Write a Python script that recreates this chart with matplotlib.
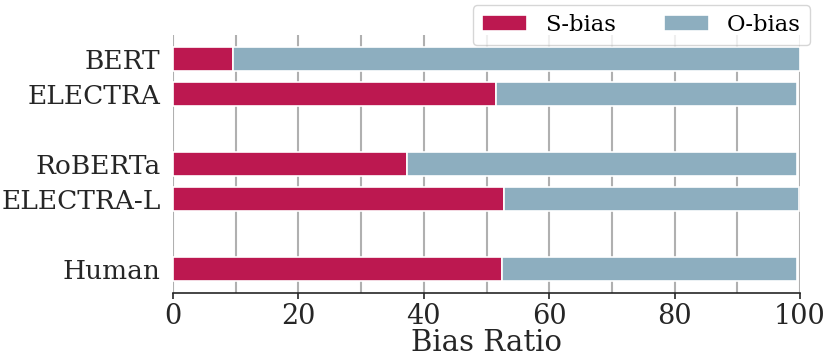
import matplotlib
matplotlib.use("Agg")
import matplotlib.pyplot as plt
from matplotlib.ticker import MultipleLocator

models = ["BERT", "ELECTRA", "RoBERTa", "ELECTRA-L", "Human"]
positions = [0, 1, 3, 4, 6]
s_bias = [9.5, 51.5, 37.3, 52.8, 52.5]
o_bias = [90.5, 48.0, 62.2, 47.0, 47.0]

S_COLOR = "#BC1850"
O_COLOR = "#8DAEBF"

plt.rcParams["font.family"] = ["DejaVu Serif"]

fig = plt.figure(figsize=(8.3, 3.56), dpi=100)
ax = fig.add_axes([0.2084, 0.177, 0.9639 - 0.2084, 0.9017 - 0.177])

ax.barh(positions, s_bias, height=0.7, color=S_COLOR, edgecolor="white",
        linewidth=1.2, label="S-bias", zorder=3)
ax.barh(positions, o_bias, left=s_bias, height=0.7, color=O_COLOR,
        edgecolor="white", linewidth=1.2, label="O-bias", zorder=3)

ax.set_xlim(0, 100)
ax.invert_yaxis()
ax.set_yticks(positions)
ax.set_yticklabels(models, fontsize=19, color="#262626")
ax.xaxis.set_major_locator(MultipleLocator(20))
ax.xaxis.set_minor_locator(MultipleLocator(10))
ax.tick_params(axis="x", which="major", labelsize=19.5, length=4, width=1.2,
               colors="#262626", direction="out")
ax.tick_params(axis="x", which="minor", length=0)
ax.tick_params(axis="y", length=0, pad=9)
ax.grid(True, axis="x", which="both", color="#b0b0b0", linewidth=1.5, zorder=0)
ax.set_axisbelow(True)
for side in ["left", "right", "top"]:
    ax.spines[side].set_visible(False)
ax.spines["bottom"].set_color("#262626")
ax.spines["bottom"].set_linewidth(1.2)
ax.set_xlabel("Bias Ratio", fontsize=21, color="#262626", labelpad=-1)

fig.legend(loc="upper right", bbox_to_anchor=(0.976, 0.986), ncol=2,
           fontsize=16.3, frameon=True, fancybox=True, edgecolor="#cccccc",
           columnspacing=2.1, borderaxespad=0)

fig.savefig("out.png", dpi=100)
